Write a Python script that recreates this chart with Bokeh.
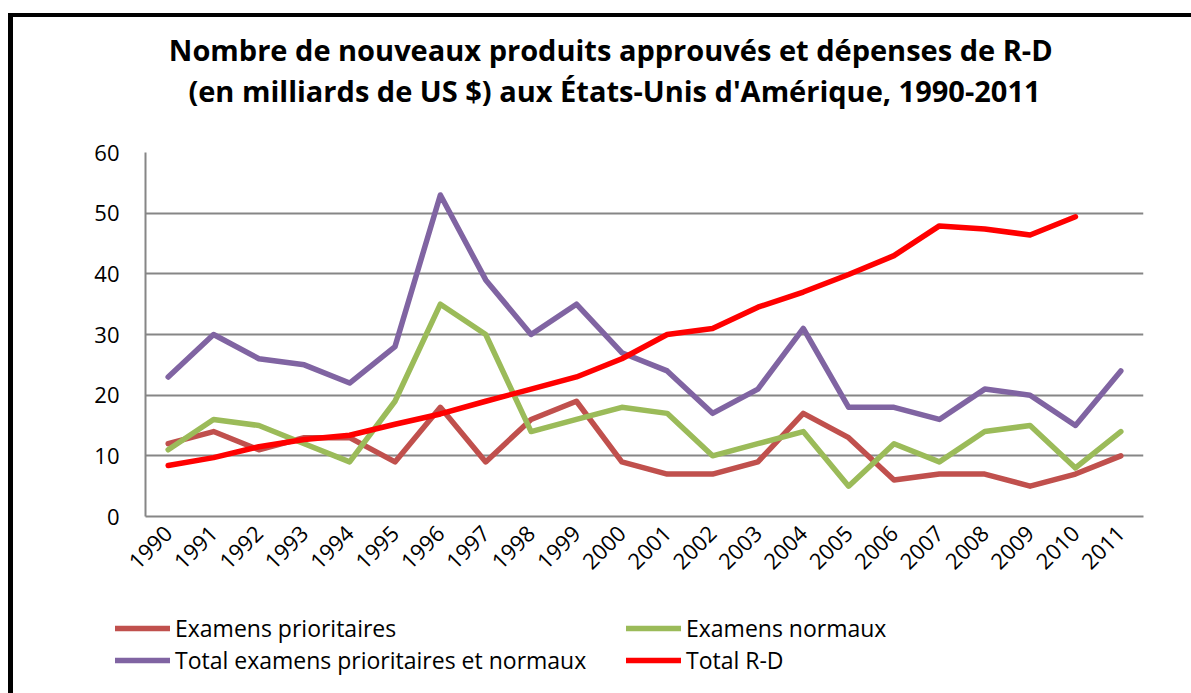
import math
from bokeh.plotting import figure
from bokeh.layouts import column
from bokeh.models import FactorRange, Range1d, Label, Legend, LegendItem, FixedTicker
from bokeh.embed import file_html
from bokeh.resources import INLINE

years = ["1990", "1991", "1992", "1993", "1994", "1995", "1996", "1997", "1998", "1999", "2000",
         "2001", "2002", "2003", "2004", "2005", "2006", "2007", "2008", "2009", "2010", "2011"]
prioritaires = [12, 14, 11, 13, 13, 9, 18, 9, 16, 19, 9, 7, 7, 9, 17, 13, 6, 7, 7, 5, 7, 10]
normaux = [11, 16, 15, 12, 9, 19, 35, 30, 14, 16, 18, 17, 10, 12, 14, 5, 12, 9, 14, 15, 8, 14]
total = [23, 30, 26, 25, 22, 28, 53, 39, 30, 35, 27, 24, 17, 21, 31, 18, 18, 16, 21, 20, 15, 24]
rd_years = ["1990", "1991", "1992", "1993", "1994", "1995", "1996", "1997", "1998", "1999", "2000",
            "2001", "2002", "2003", "2004", "2005", "2006", "2007", "2008", "2009", "2010"]
total_rd = [8.4, 9.7, 11.5, 12.7, 13.4, 15.2, 16.9, 19.0, 21.0, 23.0, 26.0,
            30.0, 31.0, 34.5, 37.0, 39.9, 43.0, 47.9, 47.4, 46.4, 49.4]
y_ticks = [0, 10, 20, 30, 40, 50, 60]

series_names = ["Examens prioritaires", "Examens normaux",
                "Total examens prioritaires et normaux", "Total R-D"]
series_colors = ["#C0504D", "#9BBB59", "#8064A2", "#FF0000"]

title1 = "Nombre de nouveaux produits approuvés et dépenses de  R-D"
title2 = "(en milliards de US $) aux États-Unis d'Amérique, 1990-2011"

FONT = "Open Sans"
GRID = "#868686"
W = 1178
LW = 5.5


def blank(height):
    f = figure(width=W, height=height, x_range=Range1d(0, 1), y_range=Range1d(0, 1),
               output_backend="svg", toolbar_location=None, min_border=0,
               x_axis_location=None, y_axis_location=None, frame_align=False)
    f.xgrid.grid_line_color = None
    f.ygrid.grid_line_color = None
    f.outline_line_color = None
    return f


# ---- title block ----
pt = blank(120)
for txt, y in ((title1, 88), (title2, 47)):
    pt.add_layout(Label(x=601, y=y, x_units="screen", y_units="screen", text=txt,
                        text_align="center", text_baseline="alphabetic",
                        text_font=FONT, text_font_style="bold",
                        text_font_size="29px", text_color="black"))

# ---- chart ----
p = figure(x_range=FactorRange(*years, range_padding=0), y_range=Range1d(0, 60),
           width=W, height=463, output_backend="svg", toolbar_location=None, frame_align=False,
           min_border_left=132, min_border_right=48, min_border_top=15, min_border_bottom=84)
p.outline_line_color = None
p.xgrid.grid_line_color = None
p.ygrid.grid_line_color = GRID
p.ygrid.grid_line_width = 2
p.yaxis.ticker = FixedTicker(ticks=y_ticks)

for ax in (p.xaxis[0], p.yaxis[0]):
    ax.axis_line_color = GRID
    ax.axis_line_width = 2
    ax.major_tick_line_color = None
    ax.minor_tick_line_color = None
    ax.major_tick_out = 0
    ax.major_tick_in = 0
    ax.major_label_text_font = FONT
    ax.major_label_text_font_size = "22px"
    ax.major_label_text_color = "black"

p.yaxis.major_label_standoff = 26
p.xaxis.major_label_orientation = math.pi / 4
p.xaxis.major_label_standoff = 13

for xs, ys, c in ((years, prioritaires, series_colors[0]), (years, normaux, series_colors[1]),
                  (years, total, series_colors[2]), (rd_years, total_rd, series_colors[3])):
    p.line(xs, ys, line_color=c, line_width=LW, line_join="round", line_cap="round")

# ---- legend block (legend keys only; no data drawn here) ----
pl = blank(93)
proxies = {}
for name, c in zip(series_names, series_colors):
    proxies[name] = pl.line(x=[0.5], y=[float("nan")], line_color=c, line_width=LW,
                            line_cap="round")
order = [series_names[0], series_names[2], series_names[1], series_names[3]]
items = [LegendItem(label=n, renderers=[proxies[n]]) for n in order]
legend = Legend(items=items, ncols=2, location=(102, 17), glyph_width=55, glyph_height=32,
                label_height=32, label_width=451, label_standoff=5, spacing=0, padding=0,
                margin=0, border_line_color=None, background_fill_alpha=0,
                label_text_font=FONT, label_text_font_size="23px", label_text_color="black")
pl.add_layout(legend)

layout = column(pt, p, pl, spacing=0,
                styles={"border-left": "5px solid black", "border-top": "4px solid black",
                        "margin-top": "13px", "margin-left": "8px"})

open("out.html", "w").write(file_html(layout, INLINE))
